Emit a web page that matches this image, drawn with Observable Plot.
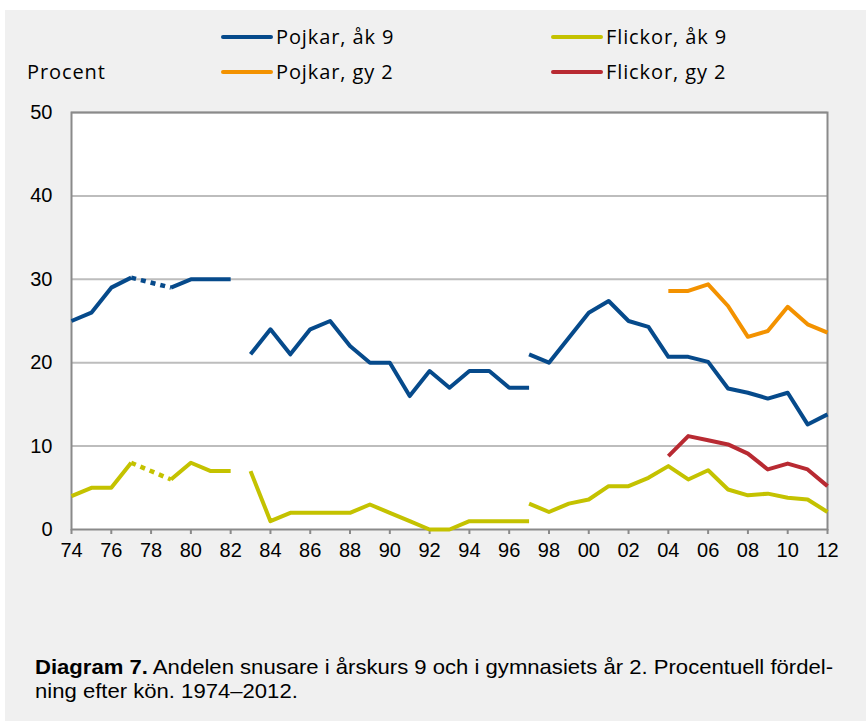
<!DOCTYPE html>
<html>
<head>
<meta charset="utf-8">
<script src="https://cdn.jsdelivr.net/npm/d3@7"></script>
<script src="https://cdn.jsdelivr.net/npm/@observablehq/plot@0.6"></script>
<style>
  html, body { margin: 0; padding: 0; background: #ffffff; }
  #wrap { position: relative; width: 866px; height: 721px; overflow: hidden; }
  #bg { position: absolute; left: 5px; top: 10px; width: 861px; height: 711px; background: #f0f0f0; }
  #chart { position: absolute; left: 0; top: 0; }
  .leg { position: absolute; font-family: "Open Sans", Lato, sans-serif; font-size: 20px; letter-spacing: 0.9px; color: #000; white-space: nowrap; line-height: 1; }
  .sw { position: absolute; height: 4px; border-radius: 2px; }
  #caption { position: absolute; left: 35px; top: 655px; font-family: "Liberation Sans", Arial, sans-serif; font-size: 21px; line-height: 24px; color: #000; white-space: nowrap; transform-origin: 0 0; }
</style>
</head>
<body>
<div id="wrap">
  <div id="bg"></div>
  <div id="chart"></div>
  <div id="legend"></div>
  <div id="caption"><b>Diagram 7.</b> Andelen snusare i årskurs 9 och i gymnasiets år 2. Procentuell fördel-<br>ning efter kön. 1974–2012.</div>
</div>
<script>
// ---- Data ----
const seriesNames = ["Pojkar, åk 9", "Flickor, åk 9", "Pojkar, gy 2", "Flickor, gy 2"];
const seriesColors = ["#064a8b", "#c4c200", "#f39200", "#b82a32"];

// Pojkar, åk 9 (three survey periods; 1978 missing)
const pojkarAk9_yearsA = [1974, 1975, 1976, 1977, 1978, 1979, 1980, 1981, 1982];
const pojkarAk9_valuesA = [25, 26, 29, 30.2, null, 29, 30, 30, 30];
const pojkarAk9_yearsB = [1983, 1984, 1985, 1986, 1987, 1988, 1989, 1990, 1991, 1992, 1993, 1994, 1995, 1996, 1997];
const pojkarAk9_valuesB = [21, 24, 21, 24, 25, 22, 20, 20, 16, 19, 17, 19, 19, 17, 17];
const pojkarAk9_yearsC = [1997, 1998, 1999, 2000, 2001, 2002, 2003, 2004, 2005, 2006, 2007, 2008, 2009, 2010, 2011, 2012];
const pojkarAk9_valuesC = [21, 20, 23, 26, 27.4, 25, 24.3, 20.7, 20.7, 20.1, 16.9, 16.4, 15.7, 16.4, 12.6, 13.8];

// Flickor, åk 9
const flickorAk9_yearsA = [1974, 1975, 1976, 1977, 1978, 1979, 1980, 1981, 1982];
const flickorAk9_valuesA = [4, 5, 5, 8, null, 6, 8, 7, 7];
const flickorAk9_yearsB = [1983, 1984, 1985, 1986, 1987, 1988, 1989, 1990, 1991, 1992, 1993, 1994, 1995, 1996, 1997];
const flickorAk9_valuesB = [7, 1, 2, 2, 2, 2, 3, 2, 1, 0, 0, 1, 1, 1, 1];
const flickorAk9_yearsC = [1997, 1998, 1999, 2000, 2001, 2002, 2003, 2004, 2005, 2006, 2007, 2008, 2009, 2010, 2011, 2012];
const flickorAk9_valuesC = [3.1, 2.1, 3.1, 3.6, 5.2, 5.2, 6.2, 7.6, 6.0, 7.1, 4.8, 4.1, 4.3, 3.8, 3.6, 2.1];

// Gymnasiet år 2
const gy2_years = [2004, 2005, 2006, 2007, 2008, 2009, 2010, 2011, 2012];
const pojkarGy2_values = [28.6, 28.6, 29.4, 26.8, 23.1, 23.8, 26.7, 24.6, 23.6];
const flickorGy2_values = [8.8, 11.2, 10.7, 10.2, 9.1, 7.2, 7.9, 7.2, 5.2];

// Axis ticks
const xTicks = [1974, 1976, 1978, 1980, 1982, 1984, 1986, 1988, 1990, 1992, 1994, 1996, 1998, 2000, 2002, 2004, 2006, 2008, 2010, 2012];
const yTicks = [0, 10, 20, 30, 40, 50];

// ---- Build table ----
const rows = [];
function addSeg(series, seg, years, values) {
  years.forEach((y, i) => rows.push({series, seg: series + "|" + seg, year: y, value: values[i]}));
}
addSeg("Pojkar, åk 9", "A", pojkarAk9_yearsA, pojkarAk9_valuesA);
addSeg("Pojkar, åk 9", "B", pojkarAk9_yearsB, pojkarAk9_valuesB);
addSeg("Pojkar, åk 9", "C", pojkarAk9_yearsC, pojkarAk9_valuesC);
addSeg("Flickor, åk 9", "A", flickorAk9_yearsA, flickorAk9_valuesA);
addSeg("Flickor, åk 9", "B", flickorAk9_yearsB, flickorAk9_valuesB);
addSeg("Flickor, åk 9", "C", flickorAk9_yearsC, flickorAk9_valuesC);
addSeg("Pojkar, gy 2", "A", gy2_years, pojkarGy2_values);
addSeg("Flickor, gy 2", "A", gy2_years, flickorGy2_values);

// Dotted connectors across missing years
const gaps = [];
d3.groups(rows, d => d.seg).forEach(([seg, pts]) => {
  pts.forEach((p, i) => {
    if (p.value == null && i > 0 && i < pts.length - 1) {
      gaps.push({...pts[i - 1], seg: seg + "|gap"});
      gaps.push({...pts[i + 1], seg: seg + "|gap"});
    }
  });
});

const chart = Plot.plot({
  width: 866,
  height: 721,
  marginLeft: 71,
  marginRight: 39,
  marginTop: 112,
  marginBottom: 192,
  style: {background: "transparent", fontFamily: "'Liberation Sans', Arial, sans-serif", fontSize: "20px", color: "#000"},
  x: {domain: [1974, 2012]},
  y: {domain: [0, 50]},
  color: {domain: seriesNames, range: seriesColors},
  marks: [
    Plot.frame({fill: "white", stroke: null}),
    Plot.ruleY(yTicks.filter(d => d > 0), {stroke: "#bdbdbd", strokeWidth: 2}),
    Plot.frame({stroke: "#8a8a8a", strokeWidth: 2}),
    Plot.axisX({ticks: xTicks, tickFormat: d => String(d % 100).padStart(2, "0"), tickSize: 5, tickPadding: 8, stroke: "#8a8a8a", strokeWidth: 2, label: null}),
    Plot.axisY({ticks: yTicks, tickSize: 0, tickPadding: 19, label: null}),
    Plot.line(rows, {x: "year", y: "value", z: "seg", stroke: "series", strokeWidth: 4, strokeLinejoin: "round", strokeLinecap: "butt"}),
    Plot.line(gaps, {x: "year", y: "value", z: "seg", stroke: "series", strokeWidth: 4.5, strokeDasharray: "5,5", strokeLinecap: "butt"})
  ]
});
document.getElementById("chart").appendChild(chart);

// ---- Legend ----
const legend = document.getElementById("legend");
const legPos = [
  {x: 221, y: 37}, {x: 551, y: 37},
  {x: 221, y: 72}, {x: 551, y: 72}
];
seriesNames.forEach((name, i) => {
  const p = legPos[i];
  const sw = document.createElement("div");
  sw.className = "sw";
  sw.style.left = p.x + "px";
  sw.style.top = (p.y - 2) + "px";
  sw.style.width = "52px";
  sw.style.background = seriesColors[i];
  legend.appendChild(sw);
  const t = document.createElement("div");
  t.className = "leg";
  t.textContent = name;
  t.style.left = (p.x + 55) + "px";
  t.style.top = (p.y - 10) + "px";
  legend.appendChild(t);
});
const pc = document.createElement("div");
pc.className = "leg";
pc.textContent = "Procent";
pc.style.left = "27px";
pc.style.top = "62px";
legend.appendChild(pc);

// Fit caption first line to the reference width (35px → 833px)
const cap = document.getElementById("caption");
const capW = cap.getBoundingClientRect().width;
if (capW > 0) cap.style.transform = `scaleX(${798 / capW})`;
</script>
</body>
</html>
